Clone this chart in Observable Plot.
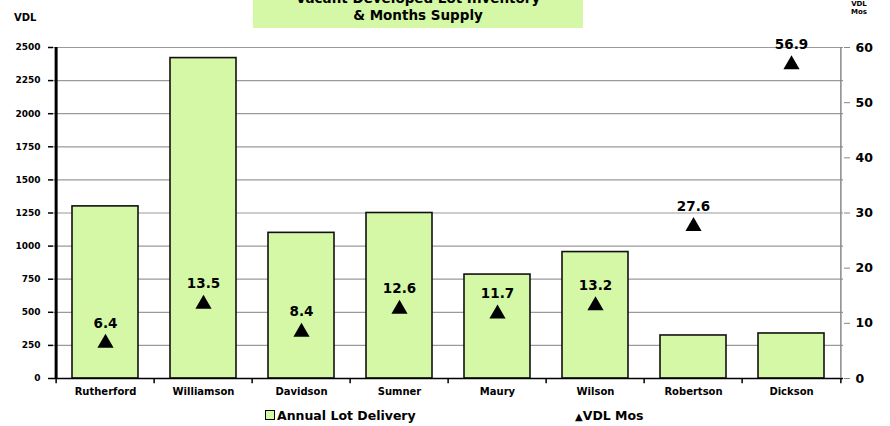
<!DOCTYPE html>
<html><head><meta charset="utf-8">
<script src="https://cdn.jsdelivr.net/npm/d3@7"></script>
<script src="https://cdn.jsdelivr.net/npm/@observablehq/plot@0.6"></script>
<style>
body{margin:0;background:#fff;font-family:"DejaVu Sans",Verdana,sans-serif;}
#wrap{position:relative;width:890px;height:426px;overflow:hidden;}
#wrap svg{position:absolute;left:0;top:0;}
.abs{position:absolute;font-weight:bold;color:#000;white-space:nowrap;}
#title{left:253px;top:-10px;width:330px;height:38px;background:#d4f8a6;text-align:center;font-family:Tahoma,"DejaVu Sans",sans-serif;font-size:13.5px;line-height:17px;}
</style></head>
<body><div id="wrap"></div>
<script>
const counties = ["Rutherford","Williamson","Davidson","Sumner","Maury","Wilson","Robertson","Dickson"];
const lotDelivery = [1300, 2420, 1100, 1250, 785, 955, 325, 340];
const vdlMos = [6.4, 13.5, 8.4, 12.6, 11.7, 13.2, 27.6, 56.9];
const leftTicks = [0,250,500,750,1000,1250,1500,1750,2000,2250,2500];
const rightTicks = [0,10,20,30,40,50,60];
const leftMax = 2500, rightMax = 60;

const data = counties.map((c,i)=>({county:c, lots:lotDelivery[i], mos:vdlMos[i], mosY:vdlMos[i]*leftMax/rightMax}));
const bw = (890-53-47)/counties.length;

const chart = Plot.plot({
  width: 890, height: 426,
  marginTop: 47, marginBottom: 48, marginLeft: 53, marginRight: 47,
  style: {fontFamily: '"DejaVu Sans", Verdana, sans-serif', background: "transparent"},
  x: {domain: counties, paddingInner: 0.33, paddingOuter: 0.165, label: null},
  y: {domain: [0, leftMax], label: null},
  marks: [
    Plot.gridY(leftTicks, {stroke: "#9a9a9a", strokeOpacity: 1, strokeWidth: 1.2}),
    Plot.barY(data, {x: "county", y: "lots", fill: "#d4f8a6", stroke: "#111", strokeWidth: 1.6}),
    Plot.ruleY([0], {stroke: "#000", strokeWidth: 1.5}),
    Plot.ruleX(counties, {x: d=>d, dx: -bw/2, y1: 0, y2: -40, stroke: "#000", strokeWidth: 1.5}),
    Plot.ruleX([counties[counties.length-1]], {x: d=>d, dx: bw/2, y1: 0, y2: -40, stroke: "#000", strokeWidth: 1.5}),
    Plot.axisX({tickSize: 0, tickPadding: 9, fontSize: 10, fontWeight: "bold", label: null}),
    Plot.axisY({ticks: leftTicks, anchor: "left", tickSize: 5, tickPadding: 8, fontSize: 9, fontWeight: "bold", tickFormat: d=>String(d), label: null, stroke: "#000", strokeWidth: 1.5}),
    Plot.ruleX([counties[0]], {x: d=>d, dx: -bw/2, y1: 0, y2: leftMax, stroke: "#000", strokeWidth: 3}),
    Plot.ruleX([counties[counties.length-1]], {x: d=>d, dx: bw/2, y1: 0, y2: leftMax, stroke: "#888", strokeWidth: 1.5}),
    Plot.axisY({ticks: rightTicks.map(v=>v*leftMax/rightMax), anchor: "right", tickSize: 6, tickPadding: 6, fontSize: 12.5, fontWeight: "bold", tickFormat: d=>String(Math.round(d*rightMax/leftMax)), label: null, stroke: "#888"}),
    Plot.dot(data, {x: "county", y: "mosY", symbol: "triangle", r: 6, fill: "#000", stroke: "none"}),
    Plot.text(data, {x: "county", y: "mosY", text: d=>d.mos.toFixed(1), dy: -20, fontSize: 13.5, fontWeight: "bold", fill: "#000"})
  ]
});
const wrap = document.getElementById("wrap");
wrap.appendChild(chart);

function addText(html, css){ const d=document.createElement("div"); d.className="abs"; d.innerHTML=html; Object.assign(d.style, css); wrap.appendChild(d); }
const t = document.createElement("div"); t.id="title"; t.className="abs";
t.innerHTML = "Vacant Developed Lot Inventory<br>&amp; Months Supply"; wrap.appendChild(t);
addText("VDL", {left:"14px", top:"12px", fontSize:"10px"});
addText("VDL<br>Mos", {left:"851px", top:"0px", fontSize:"7px", lineHeight:"8px", textAlign:"center"});
addText('<span style="display:inline-block;width:8px;height:8px;background:#d4f8a6;border:1px solid #000;margin-right:2px;vertical-align:0px"></span>Annual Lot Delivery', {left:"265px", top:"408px", fontSize:"12.5px"});
addText('<span style="font-size:10px">▲</span>VDL Mos', {left:"575px", top:"408px", fontSize:"12.5px"});
</script></body></html>
